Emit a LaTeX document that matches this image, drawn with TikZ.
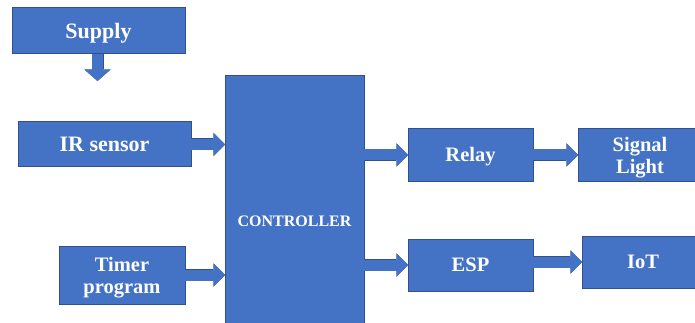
\documentclass[tikz,border=0pt]{standalone}
\usepackage{fontspec}
\setmainfont{Liberation Serif}
\usetikzlibrary{arrows.meta}
\definecolor{boxblue}{HTML}{4472C4}
\definecolor{boxedge}{HTML}{2F528F}
\begin{document}
\begin{tikzpicture}[x=1pt,y=-1pt,
  blk/.style={draw=boxedge, fill=boxblue, line width=1pt, text=white,
    font=\bfseries\fontsize{20.5}{22}\selectfont, align=center,
    inner sep=0pt, outer sep=0pt, anchor=north west},
  oneline/.style={text height=13.6pt, text depth=0pt},
  twoline/.style={text depth=0pt},
  bigtext/.style={font=\bfseries\fontsize{22}{24}\selectfont, text height=14.6pt, text depth=0pt},
  smalltext/.style={font=\bfseries\fontsize{16}{18}\selectfont, text height=10.6pt, text depth=0pt},
  fat/.style={draw=boxblue, line width=11pt,
    -{Triangle[length=11pt,width=22pt,line width=0pt]},
    preaction={draw=boxedge, line width=12pt,
      -{Triangle[length=11.6pt,width=23.5pt,line width=0pt]}}},
  fatdown/.style={draw=boxblue, line width=11pt,
    -{Triangle[length=11pt,width=25pt,line width=0pt]},
    preaction={draw=boxedge, line width=12pt,
      -{Triangle[length=11.6pt,width=26.5pt,line width=0pt]}}}]
\clip (0,0) rectangle (695,323);
\fill[white] (0,0) rectangle (695,323);
% blocks
\node[blk, bigtext, minimum width=173pt, minimum height=46pt] (supply) at (12,8) {Supply};
\node[blk, bigtext, minimum width=173pt, minimum height=45pt] (ir) at (18,122) {IR sensor};
\node[blk, twoline, minimum width=126pt, minimum height=58pt] (timer) at (59,246) {Timer\\program};
\node[blk, smalltext, minimum width=139pt, minimum height=290pt] (ctrl) at (225,76) {CONTROLLER};
\node[blk, oneline, minimum width=125pt, minimum height=52pt] (relay) at (408,129) {Relay};
\node[blk, oneline, minimum width=125pt, minimum height=52pt] (esp) at (408,239) {ESP};
\node[blk, twoline, minimum width=124pt, minimum height=52pt] (signal) at (578,129) {Signal\\Light};
\node[blk, oneline, minimum width=122pt, minimum height=52pt] (iot) at (582,236) {IoT};
% connectors
\coordinate (stip) at (97.5,81);
\draw[fatdown] (supply.south -| stip) -- (stip);
\draw[fat] (ir.east) -- (ir.east -| ctrl.west);
\draw[fat] (timer.east) -- (timer.east -| ctrl.west);
\draw[fat] (ctrl.east |- relay.west) -- (relay.west);
\draw[fat] (ctrl.east |- esp.west) -- (esp.west);
\draw[fat] (relay.east) -- (relay.east -| signal.west);
\draw[fat] (esp.east |- iot.west) -- (iot.west);
\end{tikzpicture}
\end{document}
